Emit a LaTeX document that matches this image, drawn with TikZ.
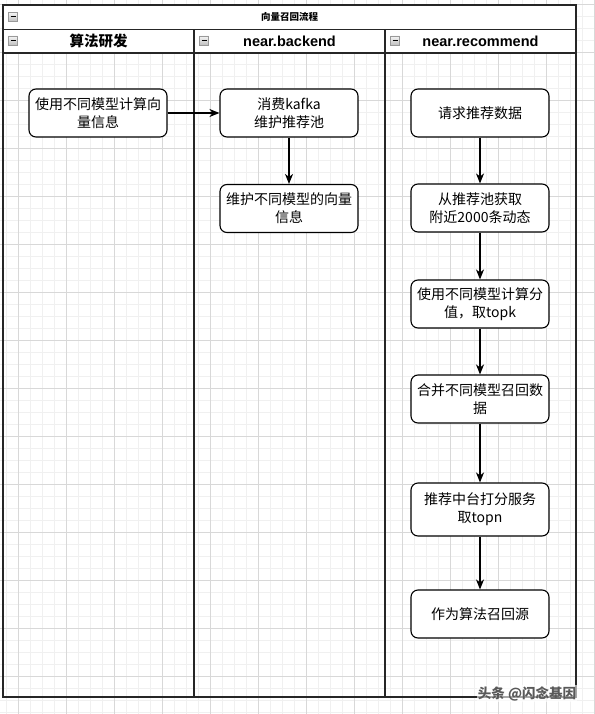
\documentclass[tikz,border=0pt]{standalone}
\usepackage{fontspec}
\setmainfont{Noto Sans CJK SC}
\newfontfamily\hdfont{Liberation Sans}
\usetikzlibrary{arrows.meta}
\definecolor{gridminor}{HTML}{F0F0F0}
\definecolor{gridmajor}{HTML}{D8D8D8}
\begin{document}
\begin{tikzpicture}[x=1pt,y=-1pt,
  box/.style={draw=black, line width=1.1pt, rounded corners=7pt, fill=white,
    minimum width=138pt, minimum height=48pt, align=center, inner sep=0pt,
    font=\fontsize{14}{18}\selectfont},
  flow/.style={-{Stealth[length=10pt,width=8pt,inset=3pt]}, line width=1.1pt},
  lane/.style={draw=black!85, line width=1.3pt},
  hdr/.style={font=\hdfont\bfseries\fontsize{14.5}{16}\selectfont, inner sep=0pt},
  icon/.style={draw=gray!80, top color=gray!8, bottom color=gray!50, minimum size=9pt, inner sep=0pt,
    path picture={\draw[black, line width=1pt] ([xshift=2pt]path picture bounding box.west) -- ([xshift=-2pt]path picture bounding box.east);}},
  wm/.style={font=\bfseries\fontsize{13.5}{15}\selectfont, inner sep=0pt}
]
\useasboundingbox (0,0) rectangle (594,714);
\fill[white] (0,0) rectangle (594,714);
% grid
\foreach \k in {0,...,50} {
  \draw[gridminor, line width=0.6pt] (6+12*\k,0) -- (6+12*\k,714);
}
\foreach \k in {0,...,60} {
  \draw[gridminor, line width=0.6pt] (0,4+12*\k) -- (594,4+12*\k);
}
\foreach \k in {0,...,12} {
  \draw[gridmajor, line width=0.7pt] (18+48*\k,0) -- (18+48*\k,714);
}
\foreach \k in {0,...,14} {
  \draw[gridmajor, line width=0.7pt] (0,4+48*\k) -- (594,4+48*\k);
}
% pool frame
\fill[white] (3,5) rectangle (576,53);
\draw[lane] (3,5) rectangle (576,697);
\draw[lane] (3,29.5) -- (576,29.5);
\draw[lane] (3,53) -- (576,53);
\draw[lane] (194,29.5) -- (194,697);
\draw[lane, line width=1.1pt] (385,29.5) -- (385,697);
% icons
\node[icon] (i0) at (13,17) {};
\node[icon] (i1) at (13,40.5) {};
\node[icon] (i2) at (204,40.5) {};
\node[icon] (i3) at (395,40.5) {};
% headers
\node[font=\bfseries\fontsize{9.5}{11}\selectfont, inner sep=0pt] (title) at (289.5,17) {向量召回流程};
\node[font=\bfseries\fontsize{14.5}{16}\selectfont, inner sep=0pt] (h1) at (98.5,41) {算法研发};
\node[hdr] (h2) at (289.5,41) {near.backend};
\node[hdr] (h3) at (480.5,41) {near.recommend};
% boxes
\node[box] (a) at (98,113) {使用不同模型计算向\\量信息};
\node[box] (b) at (289,113) {消费kafka\\维护推荐池};
\node[box] (c) at (289,208.5) {维护不同模型的向量\\信息};
\node[box] (r1) at (480,113) {请求推荐数据};
\node[box] (r2) at (480,208) {从推荐池获取\\附近2000条动态};
\node[box] (r3) at (480,304) {使用不同模型计算分\\值，取topk};
\node[box] (r4) at (480,399) {合并不同模型召回数\\据};
\node[box, minimum height=53pt] (r5) at (480,509.5) {推荐中台打分服务\\取topn};
\node[box] (r6) at (480,614) {作为算法召回源};
% connectors
\draw[flow] (a) -- (b);
\draw[flow] (b) -- (c);
\draw[flow] (r1) -- (r2);
\draw[flow] (r2) -- (r3);
\draw[flow] (r3) -- (r4);
\draw[flow] (r4) -- (r5);
\draw[flow] (r5) -- (r6);
% watermark
\node[wm, text=black!65, fill=white, fill opacity=0.6, text opacity=1, inner sep=1pt] (wmark) at (527,693.5) {头条 @闪念基因};
\end{tikzpicture}
\end{document}
